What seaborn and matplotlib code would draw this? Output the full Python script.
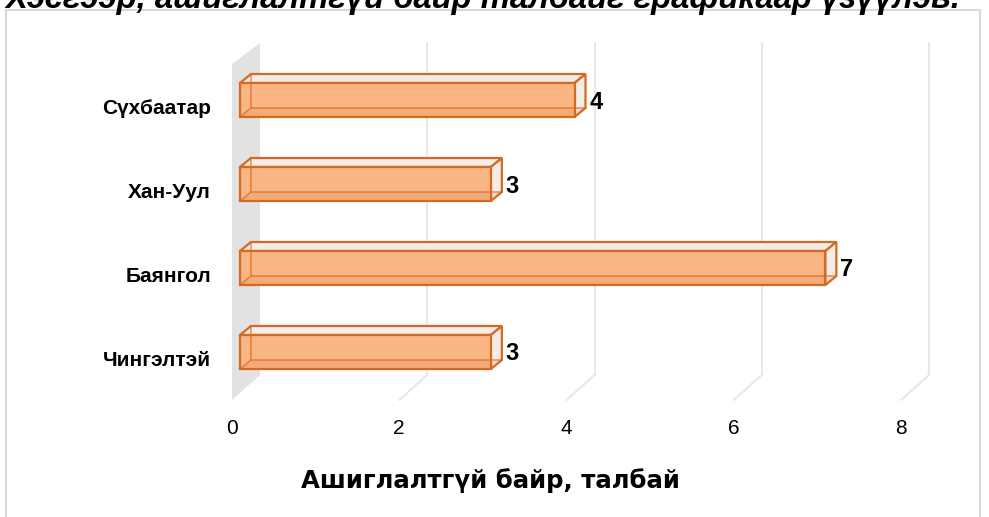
import matplotlib
matplotlib.use("Agg")
import matplotlib.pyplot as plt
from matplotlib.patches import Polygon, Rectangle
from matplotlib.lines import Line2D
import matplotlib.transforms as mtransforms
import pandas as pd
import seaborn as sns

# данные
districts = ["Сүхбаатар", "Хан-Уул", "Баянгол", "Чингэлтэй"]
unused_places = [4, 3, 7, 3]
x_ticks = [0, 2, 4, 6, 8]
title_text = "Хэсгээр, ашиглалтгүй байр талбайг графикаар үзүүлэв."
x_title = "Ашиглалтгүй байр, талбай"

W, H, DPI = 989, 517, 100

# псевдо-3D глубина (в пикселях)
WALL_DX, WALL_DY_BOT, WALL_DY_TOP = 28, 25, 21
BAR_DX, BAR_DY = 8, 6
BAR_DEPTH_X, BAR_DEPTH_Y = 11, 9

FACE = "#F9B584"
EDGE = "#D4691F"
SIDE = "#F3ECE9"
WALL = "#E2E2E2"
GRID = "#E8E8E8"


def main():
    sns.set_style("white")
    plt.rcParams["font.family"] = ["Liberation Sans", "DejaVu Sans"]
    plt.rcParams["text.color"] = "black"
    plt.rcParams["xtick.labelcolor"] = "black"
    plt.rcParams["ytick.labelcolor"] = "black"

    fig = plt.figure(figsize=(W / DPI, H / DPI), dpi=DPI)
    ax_l, ax_r, ax_t, ax_b = 232, 901, 64, 400
    ax = fig.add_axes([ax_l / W, (H - ax_b) / H, (ax_r - ax_l) / W, (ax_b - ax_t) / H])

    df = pd.DataFrame({"district": districts, "count": unused_places})
    sns.barplot(data=df, x="count", y="district", orient="h", color=FACE,
                saturation=1, width=34 / 84, edgecolor=EDGE, linewidth=1.6,
                ax=ax, zorder=3)
    bars = list(ax.patches)

    ax.set_xlim(x_ticks[0], x_ticks[-1])
    ax.set_ylim(len(districts) - 0.5, -0.5)

    def px_to_data(dx, dy):
        (x0, y0), (x1, y1) = ax.transData.transform([(0, 0), (1, 1)])
        return dx / (x1 - x0), dy / (y1 - y0)

    ax_w_px, ax_h_px = ax_r - ax_l, ax_b - ax_t

    # задняя стенка
    wall = Polygon([(0, 0), (0, 1),
                    (WALL_DX / ax_w_px, 1 + WALL_DY_TOP / ax_h_px),
                    (WALL_DX / ax_w_px, WALL_DY_BOT / ax_h_px)],
                   closed=True, transform=ax.transAxes, facecolor=WALL,
                   edgecolor="none", clip_on=False, zorder=0)
    ax.add_patch(wall)

    # сетка на задней плоскости и полу
    gx, _ = px_to_data(WALL_DX, 0)
    blend = mtransforms.blended_transform_factory(ax.transData, ax.transAxes)
    for t in x_ticks[1:]:
        ax.add_line(Line2D([t + gx, t + gx], [WALL_DY_BOT / ax_h_px, 1 + WALL_DY_TOP / ax_h_px],
                           transform=blend, color=GRID, lw=1.5, clip_on=False, zorder=1))
        ax.add_line(Line2D([t, t + gx], [0, WALL_DY_BOT / ax_h_px],
                           transform=blend, color=GRID, lw=1.5, clip_on=False, zorder=1))

    fx, fy = px_to_data(BAR_DX, BAR_DY)
    bx, by = px_to_data(BAR_DX + BAR_DEPTH_X, BAR_DY + BAR_DEPTH_Y)
    lx, ly = px_to_data(BAR_DX + BAR_DEPTH_X + 4, -2)

    for i, patch in enumerate(bars):
        x0, y0 = patch.get_x(), patch.get_y()
        w, h = patch.get_width(), patch.get_height()
        patch.set_x(x0 + fx)
        patch.set_y(y0 + fy)
        patch.set_clip_on(False)

        ftl, ftr = (x0 + fx, y0 + fy), (x0 + w + fx, y0 + fy)
        fbr, fbl = (x0 + w + fx, y0 + h + fy), (x0 + fx, y0 + h + fy)
        btl, btr = (x0 + bx, y0 + by), (x0 + w + bx, y0 + by)
        bbr, bbl = (x0 + w + bx, y0 + h + by), (x0 + bx, y0 + h + by)

        # верх и правый торец
        for pts in ([ftl, ftr, btr, btl], [ftr, btr, bbr, fbr]):
            ax.add_patch(Polygon(pts, closed=True, facecolor=SIDE, edgecolor=EDGE,
                                 lw=1.6, zorder=2, clip_on=False))
        # дно видно сквозь переднюю грань
        ax.add_patch(Polygon([fbl, fbr, bbr, bbl], closed=True, facecolor=EDGE,
                             alpha=0.12, edgecolor="none", zorder=4, clip_on=False))
        # скрытые рёбра
        ax.add_line(Line2D([btl[0], bbl[0], bbr[0]], [btl[1], bbl[1], bbr[1]],
                           color=EDGE, lw=1.1, alpha=0.7, zorder=4, clip_on=False))
        ax.add_line(Line2D([fbl[0], bbl[0]], [fbl[1], bbl[1]],
                           color=EDGE, lw=1.1, alpha=0.7, zorder=4, clip_on=False))

        ax.text(x0 + w + lx, y0 + h / 2 + fy + ly, str(unused_places[i]),
                ha="left", va="center", fontsize=17, fontweight="bold", zorder=5)

    for s in ax.spines.values():
        s.set_visible(False)
    ax.set_xticks(x_ticks)
    ax.set_xticklabels([str(t) for t in x_ticks])
    ax.tick_params(axis="x", length=0, pad=14, labelsize=15)
    ax.tick_params(axis="y", length=0, pad=15, labelsize=15)
    for lab in ax.get_yticklabels():
        lab.set_fontweight("bold")
    ax.set_xlabel("")
    ax.set_ylabel("")
    ax.set_facecolor("none")

    fig.text(490 / W, 1 - 481 / H, x_title, ha="center", va="center",
             fontsize=17.6, fontweight="bold", family="DejaVu Sans")
    fig.text(5 / W, 1 - 8 / H, title_text, ha="left", va="baseline",
             fontsize=23.6, fontweight="bold", fontstyle="italic")

    fig.patches.append(Rectangle((6 / W, -0.05), (980 - 6) / W, 1 - 10 / H + 0.05,
                                 transform=fig.transFigure, fill=False,
                                 edgecolor="#D9D9D9", lw=1.5))

    fig.savefig("out.png", dpi=DPI)


if __name__ == '__main__':
    main()
